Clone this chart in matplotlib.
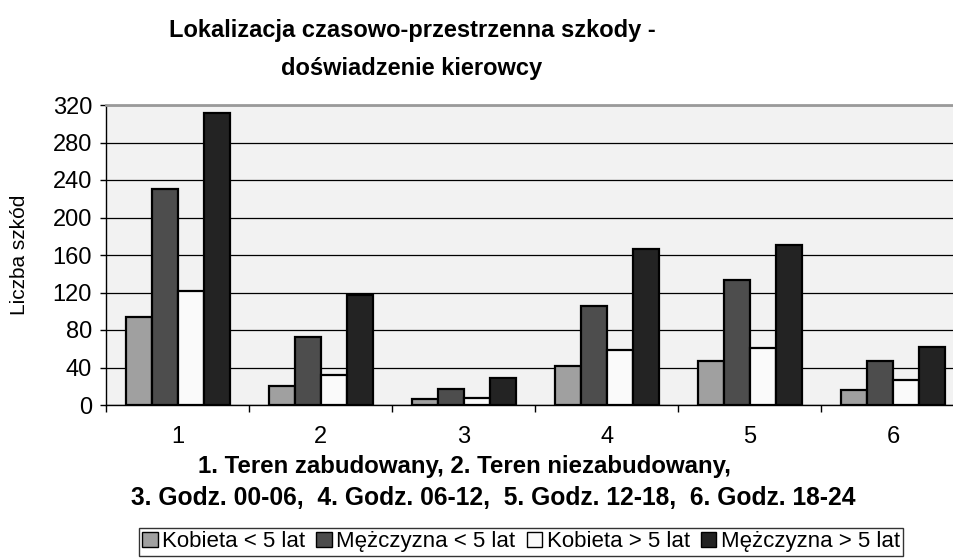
import numpy as np
import matplotlib.pyplot as plt

plt.rcParams['font.family'] = ['Liberation Sans', 'DejaVu Sans']

# ==============================================================================
# Data
groups = ['1', '2', '3', '4', '5', '6']
kobieta_lt5 = [94, 20, 6, 42, 47, 16]
mezczyzna_lt5 = [230, 73, 17, 106, 133, 47]
kobieta_gt5 = [122, 32, 7, 59, 61, 27]
mezczyzna_gt5 = [312, 117, 29, 166, 171, 62]
series_names = ['Kobieta < 5 lat', 'Mężczyzna < 5 lat', 'Kobieta > 5 lat', 'Mężczyzna > 5 lat']
y_ticks = [0, 40, 80, 120, 160, 200, 240, 280, 320]
# ==============================================================================

series = [kobieta_lt5, mezczyzna_lt5, kobieta_gt5, mezczyzna_gt5]
colors = ['#a0a0a0', '#4d4d4d', '#fafafa', '#232323']

W, H = 954, 559
fig = plt.figure(figsize=(W / 100, H / 100), dpi=100)
fig.patch.set_facecolor('white')

# plot area runs past the right edge of the picture (cropped like the original)
left, right, top, bottom = 106, 964.5, 105, 405
ax = fig.add_axes([left / W, 1 - bottom / H, (right - left) / W, (bottom - top) / H])
ax.set_facecolor('#f2f2f2')

x = np.arange(1, len(groups) + 1)
bar_w = 1 / 5.5
for i, (vals, col, name) in enumerate(zip(series, colors, series_names)):
    ax.bar(x + (i - 1.5) * bar_w, vals, width=bar_w, color=col,
           edgecolor='black', linewidth=1.6, label=name, zorder=3)

ax.set_xlim(0.5, len(groups) + 0.5)
ax.set_ylim(0, 320)
ax.set_yticks(y_ticks)
ax.set_yticklabels([str(t) for t in y_ticks], fontsize=17)
ax.yaxis.grid(True, color='black', linewidth=0.9, zorder=1)
ax.set_axisbelow(True)

# ticks between groups, labels at group centres
ax.set_xticks(np.arange(0.5, len(groups) + 1.0, 1.0))
ax.set_xticklabels([])
ax.set_xticks(x, minor=True)
ax.set_xticklabels(groups, minor=True, fontsize=17)
ax.tick_params(axis='x', which='minor', length=0, pad=15)
ax.tick_params(axis='x', which='major', length=5, width=1, color='black')
ax.tick_params(axis='y', length=4, width=1, pad=6)

for s in ['left', 'bottom']:
    ax.spines[s].set_color('black')
    ax.spines[s].set_linewidth(1.0)
ax.spines['top'].set_color('#9a9a9a')
ax.spines['top'].set_linewidth(2.0)
ax.spines['right'].set_visible(False)

fig.text(20 / W, 1 - 255 / H, 'Liczba szkód', rotation=90, fontsize=15,
         ha='center', va='center')

fig.text(412 / W, 1 - 31 / H, 'Lokalizacja czasowo-przestrzenna szkody -',
         fontsize=17, fontweight='bold', ha='center', va='center')
fig.text(412 / W, 1 - 69 / H, 'doświadzenie kierowcy',
         fontsize=17, fontweight='bold', ha='center', va='center')

fig.text(464 / W, 1 - 467 / H, '1. Teren zabudowany, 2. Teren niezabudowany,',
         fontsize=17.3, fontweight='bold', ha='center', va='center')
fig.text(493 / W, 1 - 498 / H, '3. Godz. 00-06,  4. Godz. 06-12,  5. Godz. 12-18,  6. Godz. 18-24',
         fontsize=17.7, fontweight='bold', ha='center', va='center')

handles, labels = ax.get_legend_handles_labels()
leg = fig.legend(handles, labels, loc='upper center', bbox_to_anchor=(521 / W, 1 - 528 / H),
                 ncol=4, fontsize=16, frameon=True, fancybox=False, shadow=False,
                 handlelength=0.7, handleheight=0.7, handletextpad=0.2,
                 columnspacing=0.5, borderpad=0.15, borderaxespad=0)
leg.get_frame().set_edgecolor('black')
leg.get_frame().set_linewidth(1.0)
for p in leg.get_patches():
    p.set_linewidth(1.0)

fig.savefig('out.png', dpi=100)
